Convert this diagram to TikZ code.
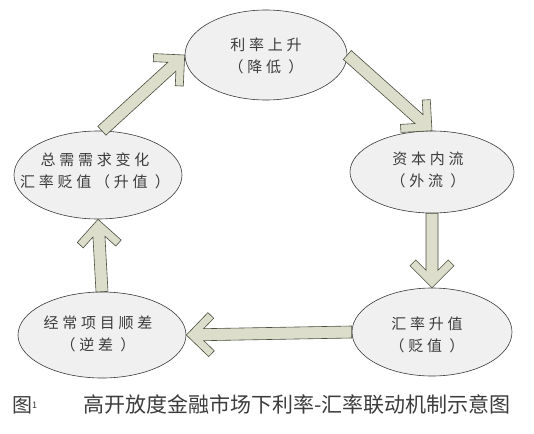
\documentclass[tikz,border=0pt]{standalone}
\usepackage{fontspec}
\newfontfamily\cjk[LetterSpace=25]{Noto Sans CJK SC}
\newfontfamily\cjkcap{Noto Sans CJK SC}
\usetikzlibrary{shapes.geometric,calc}
\definecolor{ellfill}{HTML}{F0F0F0}
\definecolor{ellline}{HTML}{3A3A3A}
\definecolor{arrfill}{HTML}{DCDDCB}
\definecolor{arrline}{HTML}{4A4F40}
\definecolor{txt}{HTML}{3C3C3C}
\tikzset{
 bubble/.style={ellipse, draw=ellline, fill=ellfill, line width=0.6pt, inner sep=0pt},
 lbl/.style={font=\cjk\fontsize{15}{22}\selectfont, text=txt, align=center, inner sep=0pt},
 fat/.style={draw=arrline, fill=arrfill, line width=0.6pt, line join=miter},
}
\newcommand\fatarrow[2]{%
 \path[fat] let \p1=(#1), \p2=(#2), \n1={atan2(\y2-\y1,\x2-\x1)} in
 (\p2) -- ($(\p2)+(\n1:-22pt)+(\n1+90:22pt)$) -- ($(\p2)+(\n1:-27.7pt)+(\n1+90:16.3pt)$)
 -- ($(\p2)+(\n1:-17.4pt)+(\n1+90:6pt)$) -- ($(\p1)+(\n1+90:6pt)$)
 -- ($(\p1)+(\n1-90:6pt)$) -- ($(\p2)+(\n1:-17.4pt)+(\n1-90:6pt)$)
 -- ($(\p2)+(\n1:-27.7pt)+(\n1-90:16.3pt)$) -- ($(\p2)+(\n1:-22pt)+(\n1-90:22pt)$) -- cycle;}
\begin{document}
\begin{tikzpicture}[x=1pt,y=-1pt]
\useasboundingbox[fill=white] (0,0) rectangle (534,433);
\node[bubble, minimum width=162pt, minimum height=90pt] (top) at (266,55) {};
\node[bubble, minimum width=164pt, minimum height=82pt] (right) at (432,172) {};
\node[bubble, minimum width=168pt, minimum height=88pt] (left) at (98,175) {};
\node[bubble, minimum width=168pt, minimum height=86pt] (bl) at (102,335) {};
\node[bubble, minimum width=160pt, minimum height=88pt] (br) at (432,332) {};
\node[lbl] (ttop) at (266,56) {利率上升\\（降低 ）};
\node[lbl] (tright) at (428,170) {资本内流\\（外流 ）};
\node[lbl] (tleft) at (95,171) {总需需求变化\\汇率贬值（升值 ）};
\node[lbl] (tbl) at (98,334) {经常项目顺差\\（逆差 ）};
\node[lbl] (tbr) at (427,335) {汇率升值\\（贬值 ）};
\fatarrow{left.85}{top.180}
\fatarrow{top.0}{right.90}
\fatarrow{right.270}{br.90}
\fatarrow{br.180}{bl.0}
\fatarrow{bl.90}{left.270}
\node[anchor=west, font=\cjkcap\fontsize{20}{20}\selectfont, text=txt, inner sep=0pt] (fig) at (12,405) {图\raisebox{4pt}{\fontsize{9}{9}\selectfont 1}};
\node[anchor=west, font=\cjkcap\fontsize{21}{21}\selectfont, text=txt, inner sep=0pt] (cap) at (83,405) {高开放度金融市场下利率-汇率联动机制示意图};
\end{tikzpicture}
\end{document}
